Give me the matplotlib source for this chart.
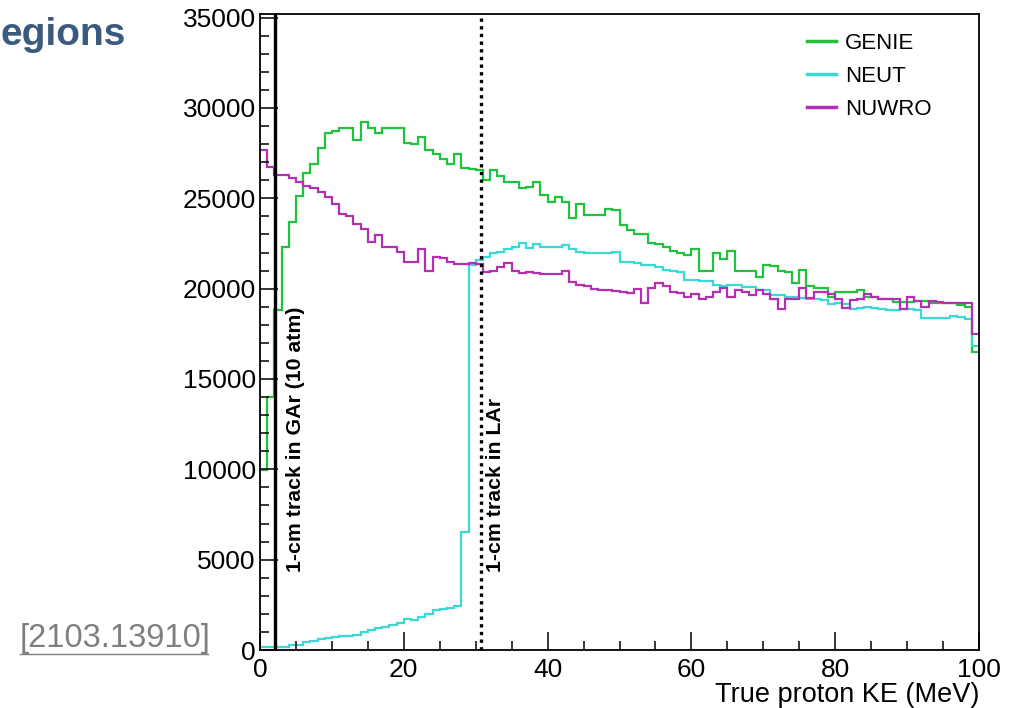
import matplotlib
matplotlib.use("Agg")
import matplotlib.pyplot as plt
import numpy as np
from matplotlib.lines import Line2D
from matplotlib.ticker import MultipleLocator

plt.rcParams['font.family'] = ['Liberation Sans', 'DejaVu Sans']

# 1 MeV bins, 0-100 MeV
bin_edges = np.linspace(0, 100, 101)

genie = [
    9950, 14000, 18800, 22300, 23700, 25100, 26400, 26900, 27800, 28600,
    28700, 28900, 28900, 28200, 29200, 28900, 28600, 28900, 28900, 28900,
    28050, 28000, 28400, 27650, 27450, 27200, 26900, 27450, 26650, 26600,
    26550, 26000, 26550, 26250, 25900, 25900, 25550, 25650, 25900, 25200,
    24800, 25050, 24800, 23900, 24700, 24100, 24050, 24050, 24400, 24350,
    23500, 23250, 23000, 23000, 22500, 22450, 22300, 22100, 22000, 21850,
    22200, 21000, 21000, 22000, 21650, 22100, 21000, 20950, 20950, 20650,
    21300, 21250, 20950, 20900, 20300, 21050, 20150, 20050, 20050, 19550,
    19800, 19800, 19800, 19950, 19550, 19550, 19400, 19400, 19250, 19250,
    19250, 19300, 19300, 19200, 19200, 19200, 19200, 19100, 19000, 16500,
]

neut = [
    150, 150, 150, 150, 250, 300, 450, 500, 600, 650,
    700, 750, 800, 850, 1000, 1100, 1200, 1300, 1400, 1500,
    1700, 1650, 1850, 2000, 2200, 2250, 2300, 2450, 6550, 21300,
    21600, 21750, 22000, 22050, 22200, 22300, 22500, 22250, 22450, 22300,
    22300, 22300, 22400, 22200, 22050, 22000, 21950, 21950, 22000, 22050,
    21500, 21450, 21400, 21300, 21300, 21200, 21050, 21000, 20900, 20500,
    20500, 20450, 20450, 20200, 20150, 20200, 20200, 20100, 20100, 19950,
    19900, 19650, 19650, 19550, 19550, 19500, 19450, 19400, 19350, 19150,
    19200, 19150, 18900, 18950, 19000, 18950, 18850, 18800, 18800, 18900,
    18850, 18800, 18350, 18350, 18400, 18400, 18500, 18450, 18300, 16800,
]

nuwro = [
    27650, 26750, 26300, 26300, 26100, 25900, 25700, 25550, 25350, 25050,
    24700, 24150, 24000, 23600, 23300, 22600, 22950, 22300, 22300, 22050,
    21450, 21500, 22200, 20950, 21750, 21700, 21450, 21350, 21350, 21400,
    21350, 20900, 21000, 21200, 21400, 21000, 20850, 20900, 20850, 20800,
    20800, 20800, 20950, 20350, 20200, 20150, 20000, 19950, 19900, 19850,
    19800, 19750, 20000, 19200, 20050, 20300, 20150, 19800, 19750, 19550,
    19700, 19400, 19550, 19800, 20050, 19550, 19950, 19800, 19650, 19900,
    19700, 19400, 18900, 19400, 19450, 20050, 19500, 19800, 19800, 19700,
    19450, 18950, 19350, 19450, 19700, 19550, 19400, 19400, 19400, 18900,
    19550, 19300, 19000, 19300, 19250, 19200, 19200, 19200, 19200, 17500,
]

series_names = ['GENIE', 'NEUT', 'NUWRO']
series_colors = ['#21c23d', '#3ad9d6', '#b52fb5']

gar_cut = 2.1    # 1-cm track in GAr (10 atm), MeV
lar_cut = 30.8   # 1-cm track in LAr, MeV

fig = plt.figure(figsize=(10.09, 7.08), dpi=100)
# frame: x 260..979 px, y 14..650 px
ax = fig.add_axes([260 / 1009, 58 / 708, 719 / 1009, 636 / 708])

for vals, name, col in zip([genie, neut, nuwro], series_names, series_colors):
    ax.stairs(vals, bin_edges, color=col, lw=1.6, label=name, baseline=None)

ax.axvline(gar_cut, color='black', lw=2.4)
ax.axvline(lar_cut, color='black', lw=2.4, linestyle=(0, (1, 1.3)))

ax.text(gar_cut + 2.8, 4300, '1-cm track in GAr (10 atm)', rotation=90,
        ha='center', va='bottom', fontsize=15.3, fontweight='bold')
ax.text(lar_cut + 2.0, 4300, '1-cm track in LAr', rotation=90,
        ha='center', va='bottom', fontsize=15.3, fontweight='bold')

ax.set_xlim(0, 100)
ax.set_ylim(0, 35200)
ax.xaxis.set_major_locator(MultipleLocator(20))
ax.xaxis.set_minor_locator(MultipleLocator(5))
ax.yaxis.set_major_locator(MultipleLocator(5000))
ax.yaxis.set_minor_locator(MultipleLocator(1000))
ax.tick_params(which='both', direction='in', width=1.1, labelsize=19)
ax.tick_params(which='major', length=13)
ax.tick_params(which='minor', length=6.5)
ax.tick_params(axis='x', pad=6)
ax.tick_params(axis='y', pad=3)
for sp in ax.spines.values():
    sp.set_linewidth(1.3)

ax.set_xlabel('True proton KE (MeV)', fontsize=19.5, loc='right', labelpad=0)

leg = ax.legend(loc='upper left', bbox_to_anchor=(0.733, 1.002), frameon=False,
                fontsize=16, handlelength=1.3, handletextpad=0.4,
                labelspacing=0.55)
for h in leg.get_lines():
    h.set_linewidth(2.5)

fig.text(0.0, 1 - 35 / 708, 'egions', fontsize=28, fontweight='bold',
         color='#3b5a7d', ha='left', va='center')
fig.text(20 / 1009, 1 - 638 / 708, '[2103.13910]', fontsize=23.5,
         color='#7f7f7f', ha='left', va='center')
fig.add_artist(Line2D([20 / 1009, 208 / 1009], [1 - 654 / 708, 1 - 654 / 708],
                      color='#7f7f7f', lw=1))

fig.savefig('out.png', dpi=100)
